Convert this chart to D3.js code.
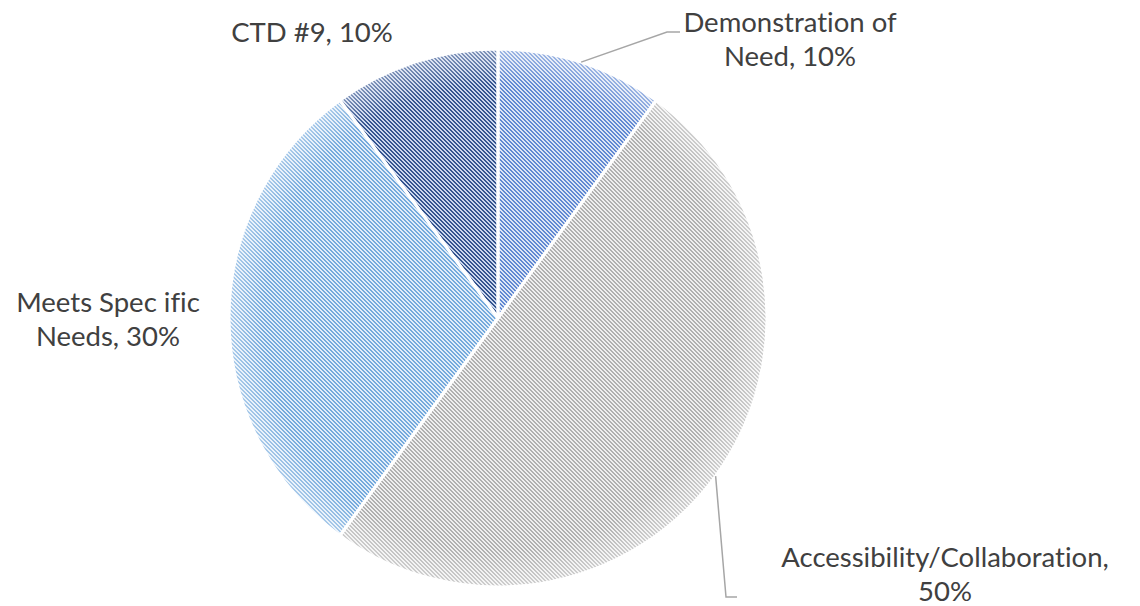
<!DOCTYPE html>
<html>
<head>
<meta charset="utf-8">
<script src="https://cdn.jsdelivr.net/npm/d3@7.9.0/dist/d3.min.js"></script>
<style>
  body { margin: 0; background: #fff; }
  svg { display: block; }
  text { font-family: Lato, "Open Sans", sans-serif; fill: #404040; font-variant-ligatures: none; }
</style>
</head>
<body>
<svg id="pie" width="1140" height="606"></svg>
<script>
const labels = ['Demonstration of Need', 'Accessibility/Collaboration', 'Meets Spec ific Needs', 'CTD #9'];
const values = [10, 50, 30, 10];
// label text as it is broken into lines in the chart
const labelLines = [
  ['Demonstration of', 'Need, 10%'],
  ['Accessibility/Collaboration,', '50%'],
  ['Meets Spec ific', 'Needs, 30%'],
  ['CTD #9, 10%']
];

const cx = 498, cy = 318, radius = 269;

// pattern colours: background / stripe
const bgColors = ['#dde6f5', '#f0f0f0', '#e2eef9', '#ccd7ed'];
const fgColors = ['#6088d2', '#b0b0b0', '#74a9dc', '#34548f'];

// label anchor (centre x, first baseline) and leader elbow
const labelPos = [
  { x: 790, y: 32, line: [[667, 32], [680, 32]] },
  { x: 945, y: 567, line: [[726, 597], [737, 597]] },
  { x: 108, y: 312, line: null },
  { x: 312, y: 42, line: null }
];

let svg = d3.select('#pie');
let defs = svg.append('defs');

// 4x4 diagonal stripe tile, 2px wide lines
bgColors.forEach((bg, i) => {
  let p = defs.append('pattern')
    .attr('id', 'pat' + i)
    .attr('patternUnits', 'userSpaceOnUse')
    .attr('width', 4)
    .attr('height', 4);
  p.append('rect').attr('width', 4).attr('height', 4).attr('fill', bg);
  d3.range(4).forEach(y => {
    [y % 4, (y + 1) % 4].forEach(x => {
      p.append('rect')
        .attr('x', x).attr('y', y)
        .attr('width', 1).attr('height', 1)
        .attr('fill', fgColors[i])
        .attr('shape-rendering', 'crispEdges');
    });
  });
});

let rim = defs.append('radialGradient')
  .attr('id', 'rim')
  .attr('gradientUnits', 'userSpaceOnUse')
  .attr('cx', 0).attr('cy', 0).attr('r', radius);
rim.append('stop').attr('offset', '0.87').attr('stop-color', '#fff').attr('stop-opacity', 0);
rim.append('stop').attr('offset', '1').attr('stop-color', '#fff').attr('stop-opacity', 0.4);

let data = labels.map((l, i) => ({ label: l, value: values[i] }));
let sliceGenerator = d3.pie().value(d => d.value).sort(null);
let arcData = sliceGenerator(data);
let arcGenerator = d3.arc().innerRadius(0).outerRadius(radius);

let g = svg.append('g').attr('transform', `translate(${cx},${cy})`);

arcData.forEach((d, idx) => {
  g.append('path')
    .attr('d', arcGenerator(d))
    .attr('fill', `url(#pat${idx})`);
  g.append('path')
    .attr('d', arcGenerator(d))
    .attr('fill', 'url(#rim)');
});

arcData.forEach(d => {
  g.append('path')
    .attr('d', arcGenerator(d))
    .attr('fill', 'none')
    .attr('stroke', '#fff')
    .attr('stroke-width', 3)
    .attr('stroke-linejoin', 'round');
});

// leader lines and labels
arcData.forEach((d, idx) => {
  let pos = labelPos[idx];
  if (pos.line) {
    let mid = (d.startAngle + d.endAngle) / 2;
    let start = [cx + radius * Math.sin(mid), cy - radius * Math.cos(mid)];
    svg.append('polyline')
      .attr('points', [start, ...pos.line].map(p => p.join(',')).join(' '))
      .attr('fill', 'none')
      .attr('stroke', '#a6a6a6')
      .attr('stroke-width', 1.5);
  }
  let t = svg.append('text')
    .attr('text-anchor', 'middle')
    .attr('font-size', 27.5);
  labelLines[idx].forEach((line, k) => {
    t.append('tspan')
      .attr('x', pos.x)
      .attr('y', pos.y + k * 34)
      .text(line);
  });
});
</script>
</body>
</html>
